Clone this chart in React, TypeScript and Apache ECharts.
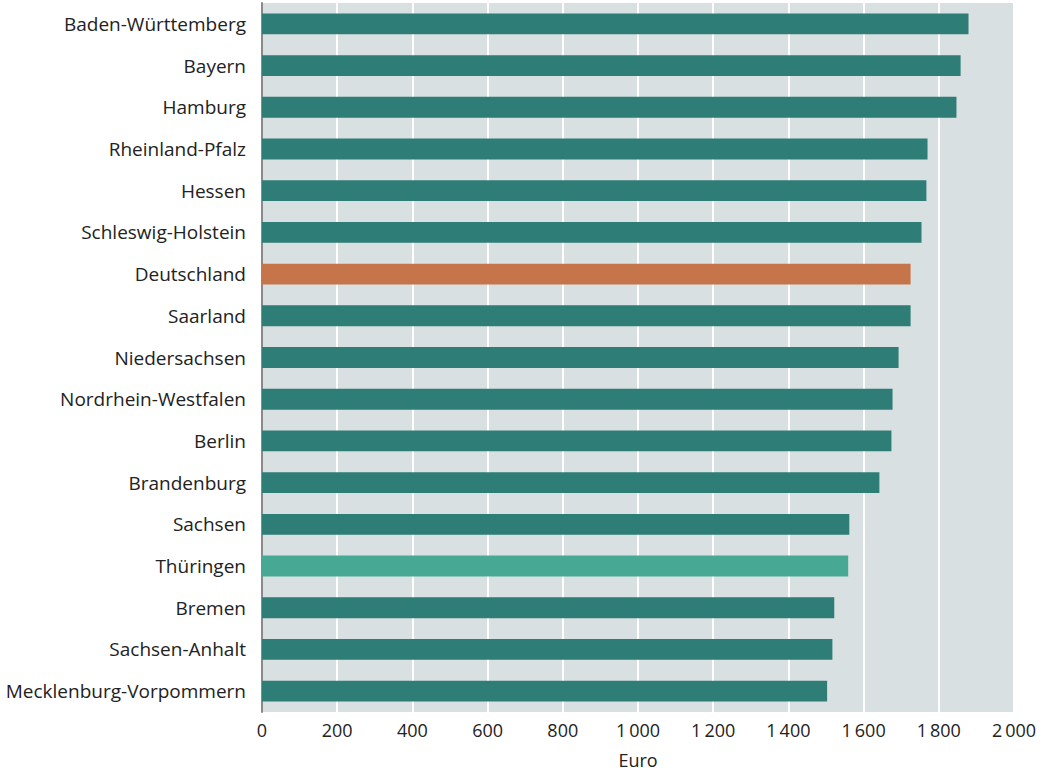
import React, { useEffect, useRef } from "react";
import * as echarts from "echarts";

const categories = [
  "Baden-Württemberg",
  "Bayern",
  "Hamburg",
  "Rheinland-Pfalz",
  "Hessen",
  "Schleswig-Holstein",
  "Deutschland",
  "Saarland",
  "Niedersachsen",
  "Nordrhein-Westfalen",
  "Berlin",
  "Brandenburg",
  "Sachsen",
  "Thüringen",
  "Bremen",
  "Sachsen-Anhalt",
  "Mecklenburg-Vorpommern",
];
const values = [1879, 1858, 1847, 1770, 1767, 1754, 1725, 1725, 1693, 1677, 1674, 1642, 1562, 1559, 1522, 1517, 1503];
const highlightColors: Record<string, string> = {
  Deutschland: "#c6754b",
  "Thüringen": "#47a994",
};
const baseColor = "#2e7d76";
const xAxisName = "Euro";

function fmt(v: number): string {
  if (v >= 1000) {
    const s = String(v);
    return s.slice(0, s.length - 3) + "\u2009" + s.slice(s.length - 3);
  }
  return String(v);
}

export default function App() {
  const ref = useRef<HTMLDivElement>(null);
  useEffect(() => {
    if (!ref.current) return;
    document.body.style.margin = "0";
    document.body.style.overflow = "hidden";
    const chart = echarts.init(ref.current, undefined, { renderer: "svg" });
    const font = "'Source Sans Pro', 'Open Sans', 'Noto Sans', sans-serif";
    chart.setOption({
      animation: false,
      textStyle: { fontFamily: font },
      grid: {
        left: 262,
        right: 31,
        top: 3,
        bottom: 59,
        show: true,
        backgroundColor: "#d8e0e2",
        borderWidth: 0,
        containLabel: false,
        outerBoundsMode: "none",
      },
      xAxis: {
        type: "value",
        min: 0,
        max: 2000,
        interval: 200,
        name: xAxisName,
        nameLocation: "middle",
        nameGap: 39,
        nameTextStyle: { fontSize: 18, color: "#222", fontFamily: font },
        axisLine: { show: false },
        axisTick: { show: false },
        axisLabel: {
          fontSize: 18,
          color: "#222",
          margin: 9,
          fontFamily: font,
          formatter: (v: number) => fmt(v),
        },
        splitLine: { show: true, lineStyle: { color: "#ffffff", width: 2 } },
      },
      yAxis: {
        type: "category",
        data: categories,
        inverse: true,
        axisLine: { show: true, lineStyle: { color: "#8a8a8a", width: 2 } },
        axisTick: { show: false },
        axisLabel: { fontSize: 19, color: "#222", margin: 16, fontFamily: font },
        splitLine: { show: false },
      },
      series: [
        {
          type: "bar",
          barWidth: "50%",
          data: values.map((v, i) => ({
            value: v,
            itemStyle: { color: highlightColors[categories[i]] || baseColor },
          })),
        },
      ],
    });
    return () => chart.dispose();
  }, []);
  return <div ref={ref} style={{ width: 1045, height: 771 }} />;
}
